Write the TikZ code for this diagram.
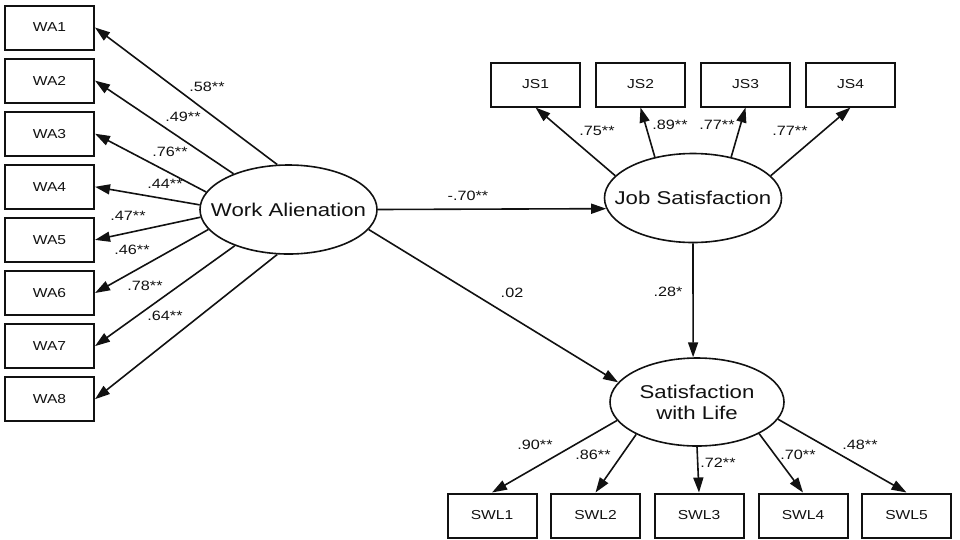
\documentclass[tikz,border=0pt]{standalone}
\usepackage{fontspec}
\setmainfont{Liberation Sans}[FakeStretch=1.2]
\usetikzlibrary{arrows.meta,shapes.geometric}
\definecolor{Ink}{HTML}{111111}
\newcommand{\obsfont}{\fontsize{13}{15}\selectfont}
\newcommand{\coeffont}{\fontsize{13.5}{15}\selectfont}
\newcommand{\latfont}{\fontsize{18.5}{21}\selectfont}

\begin{document}
\begin{tikzpicture}[x=1pt,y=-1pt,>={Triangle[length=15pt,width=10pt]},
  obs/.style={draw=Ink,line width=2pt,minimum width=89pt,minimum height=44pt,inner sep=0pt,font=\obsfont,text=Ink},
  latent/.style={ellipse,draw=Ink,line width=1.6pt,minimum width=177pt,minimum height=89pt,inner sep=0pt},
  coef/.style={font=\coeffont,text=Ink,inner sep=0pt},
  link/.style={->,draw=Ink,line width=1.6pt}]
\useasboundingbox (0,0) rectangle (960,539);
% latent variables
\node[latent,label={[font=\latfont,text=Ink]center:Work Alienation}] (wa) at (288.5,209.5) {};
\node[latent,label={[font=\latfont,text=Ink]center:Job Satisfaction}] (js) at (693,198) {};
\node[latent,minimum width=174pt,minimum height=88pt,label={[font=\latfont,text=Ink,align=center]center:{Satisfaction\\with Life}}] (swl) at (697,402) {};
% work alienation items
\node[obs] (wa1) at (49.5,27.5) {WA1};
\node[obs] (wa2) at (49.5,80.6) {WA2};
\node[obs] (wa3) at (49.5,133.7) {WA3};
\node[obs] (wa4) at (49.5,186.8) {WA4};
\node[obs] (wa5) at (49.5,239.9) {WA5};
\node[obs] (wa6) at (49.5,293.0) {WA6};
\node[obs] (wa7) at (49.5,346.1) {WA7};
\node[obs] (wa8) at (49.5,399.2) {WA8};
% job satisfaction items
\node[obs] (js1) at (535.5,84.5) {JS1};
\node[obs] (js2) at (640.5,84.5) {JS2};
\node[obs] (js3) at (745.5,84.5) {JS3};
\node[obs] (js4) at (850.5,84.5) {JS4};
% satisfaction with life items
\node[obs] (swl1) at (492,515.5) {SWL1};
\node[obs] (swl2) at (595.5,515.5) {SWL2};
\node[obs] (swl3) at (699,515.5) {SWL3};
\node[obs] (swl4) at (803,515.5) {SWL4};
\node[obs] (swl5) at (906.5,515.5) {SWL5};
% loadings
\draw[link] (wa.104) -- (wa1.east);
\draw[link] (wa.147) -- (wa2.east);
\draw[link] (wa.168) -- (wa3.east);
\draw[link] (wa.177) -- (wa4.east);
\draw[link] (wa.185) -- (wa5.east);
\draw[link] (wa.194) -- (wa6.east);
\draw[link] (wa.214) -- (wa7.east);
\draw[link] (wa.256) -- (wa8.east);
\draw[link] (js.164) -- (js1.south);
\draw[link] (js.133) -- (js2.south);
\draw[link] (js.47) -- (js3.south);
\draw[link] (js.16) -- (js4.south);
\draw[link] (swl.193) -- (swl1.north);
\draw[link] (swl.208) -- (swl2.north);
\draw[link] (swl.south) -- (swl3.north);
\draw[link] (swl.333) -- (swl4.north);
\draw[link] (swl.348) -- (swl5.north);
% structural paths
\draw[link] (wa.east) -- (js.187);
\draw[link] (wa.346) -- (swl.166);
\draw[link] (js.south) -- (swl.95);
% coefficients
\node[coef] (c-wa1) at (207,87) {.58**};
\node[coef] (c-wa2) at (183,117) {.49**};
\node[coef] (c-wa3) at (170,152) {.76**};
\node[coef] (c-wa4) at (165,184) {.44**};
\node[coef] (c-wa5) at (128,216) {.47**};
\node[coef] (c-wa6) at (132,250) {.46**};
\node[coef] (c-wa7) at (145,286) {.78**};
\node[coef] (c-wa8) at (165,316) {.64**};
\node[coef] (c-js1) at (597,131) {.75**};
\node[coef] (c-js2) at (670,125) {.89**};
\node[coef] (c-js3) at (717,125) {.77**};
\node[coef] (c-js4) at (790,131) {.77**};
\node[coef] (c-swl1) at (535,445) {.90**};
\node[coef] (c-swl2) at (593,455) {.86**};
\node[coef] (c-swl3) at (718,463) {.72**};
\node[coef] (c-swl4) at (798,455) {.70**};
\node[coef] (c-swl5) at (860,445) {.48**};
\node[coef] (c-wajs) at (468,196) {-.70**};
\node[coef] (c-waswl) at (512,293) {.02};
\node[coef] (c-jsswl) at (668,292) {.28*};
\end{tikzpicture}
\end{document}
